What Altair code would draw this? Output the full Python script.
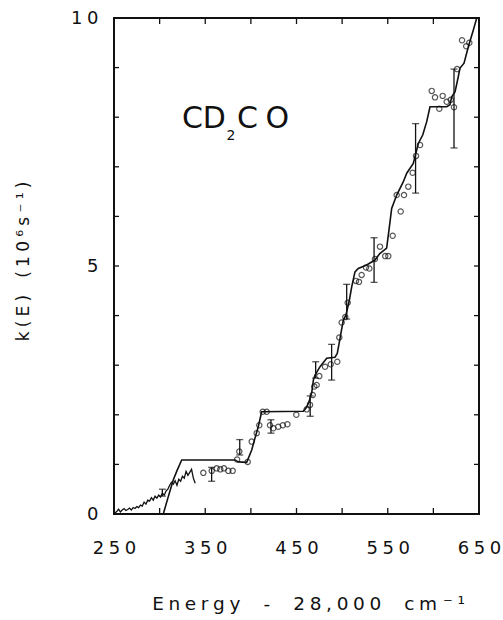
import altair as alt
import pandas as pd

# ---- data ----
theory_x = [250, 304, 309.5, 315, 319.4, 324.2, 382.6, 386.2, 395.4, 400.9, 404.5, 408.1, 411.8,
            457.5, 461, 464, 466.7, 468.5, 470.3, 475.8, 483.1, 492.2, 494.7, 497.7, 501.3, 504.2,
            507.9, 510.5, 514.1, 517.7, 526.9, 536, 541.3, 548.8, 551.5, 554.3, 559.8, 567.1, 570.8,
            578, 583.5, 588.3, 592.7, 596.3, 614.6, 618.2, 620.1, 623.7, 626.2, 629.2, 633.6, 638.3,
            643.8, 647.5]
theory_y = [0, 0, 0.35, 0.69, 0.89, 1.09, 1.09, 1.05, 1.04, 1.29, 1.53, 1.76, 2.06,
            2.07, 2.15, 2.28, 2.45, 2.70, 2.80, 2.97, 3.14, 3.16, 3.24, 3.54, 3.91, 4.01,
            4.31, 4.58, 4.88, 4.95, 5.02, 5.12, 5.25, 5.36, 5.75, 6.16, 6.43, 6.70, 6.87,
            7.07, 7.47, 7.64, 7.91, 8.21, 8.21, 8.25, 8.41, 8.51, 8.72, 8.99, 9.09, 9.42,
            9.76, 10.0]

trace_x = [251, 253, 255, 257, 259, 261, 263, 265, 267, 269, 271, 273, 275, 277, 279, 281, 283,
           285, 287, 289, 291, 293, 295, 297, 299, 301, 303, 305, 307, 309, 311, 313, 315, 317,
           319, 321, 323, 325, 327, 329, 331, 333, 335, 337, 339]
trace_y = [0.02, 0.05, 0.10, 0.04, 0.08, 0.11, 0.07, 0.09, 0.12, 0.08, 0.13, 0.11, 0.15, 0.13,
           0.18, 0.16, 0.24, 0.20, 0.28, 0.26, 0.33, 0.28, 0.36, 0.32, 0.38, 0.34, 0.42, 0.38,
           0.46, 0.50, 0.58, 0.64, 0.60, 0.67, 0.58, 0.70, 0.66, 0.76, 0.72, 0.86, 0.78, 0.84,
           0.90, 0.72, 0.62]

point_x = [347.9, 357.1, 362.5, 366.5, 370.5, 375.3, 380.1, 384.9, 387.3, 396.5, 400.9, 406.4,
           409.2, 413, 417.3, 421, 424.6, 430, 435, 440, 449.8, 461.2, 464.8, 467.8, 469.5, 472.1,
           475, 481.3, 487.5, 494.7, 496.9, 499.5, 503.5, 506.1, 515.2, 518.5, 521.4, 526.2,
           529.8, 536, 541.5, 547.2, 550.6, 555.4, 559.8, 564.2, 567.8, 572.5, 577.3, 581, 585.4,
           598.2, 601.8, 606.5, 610.2, 614.6, 619, 622.6, 626, 631.4, 636, 639.4]
point_y = [0.83, 0.87, 0.92, 0.90, 0.92, 0.87, 0.87, 1.10, 1.26, 1.05, 1.46, 1.63,
           1.79, 2.06, 2.06, 1.79, 1.73, 1.76, 1.79, 1.81, 2.00, 2.11, 2.20, 2.40, 2.57, 2.60,
           2.78, 2.97, 3.02, 3.07, 3.56, 3.86, 3.97, 4.26, 4.70, 4.68, 4.82, 4.97,
           4.95, 5.14, 5.39, 5.20, 5.20, 5.61, 6.43, 6.10, 6.43, 6.60, 6.88, 7.22, 7.44,
           8.53, 8.40, 8.17, 8.43, 8.31, 8.35, 8.20, 8.97, 9.55, 9.43, 9.50]

err_x = [303, 357, 387.8, 422, 465, 471, 488.5, 505, 535, 580.5, 622.6]
err_lo = [0.36, 0.66, 1.19, 1.63, 1.97, 2.74, 2.70, 3.93, 4.67, 6.47, 7.38]
err_hi = [0.50, 0.94, 1.50, 1.90, 2.38, 3.07, 3.42, 4.63, 5.57, 7.87, 8.97]

x_labels = [250, 350, 450, 550, 650]
y_labels = [0, 5, 10]
x_minor = [300, 350, 400, 450, 500, 550, 600]
y_minor = [1, 2, 3, 4, 5, 6, 7, 8, 9]

label_x = [378.2]
label_y = [7.78]

# ---- helpers ----
SP = "\u2005"   # four-per-em space used as letter spacing
EM = "\u2003"


def spaced(s):
    return SP.join(list(s))


x_title = (spaced("Energy") + EM + SP + "-" + EM + SP + spaced("28,000") + EM + SP
           + "c" + SP + "m" + " " + "⁻" + SP + "¹")
y_title = spaced("k(E)") + EM + spaced("(10⁶s⁻¹)")

theory = pd.DataFrame({"x": theory_x, "y": theory_y})
trace = pd.DataFrame({"x": trace_x, "y": trace_y})
pts = pd.DataFrame({"x": point_x, "y": point_y})
errs = pd.DataFrame({"x": err_x, "lo": err_lo, "hi": err_hi})
xt = pd.DataFrame({"t": x_minor})
yt = pd.DataFrame({"t": y_minor})
lab = pd.DataFrame({"x": label_x, "y": label_y})

FONT = "DejaVu Sans"
INK = "#111111"

xscale = alt.Scale(domain=[250, 650], nice=False, zero=False)
yscale = alt.Scale(domain=[0, 10], nice=False)

label_expr = "join(split(datum.label, ''), '\u2005')"

xaxis = alt.Axis(values=x_labels, ticks=False, domain=False, grid=False, labelFont=FONT,
                 labelFontSize=18, labelColor=INK, labelPadding=25, labelExpr=label_expr,
                 labelFlush=False, labelOverlap=False,
                 title=x_title, titleFont=FONT, titleFontSize=18.5, titleFontWeight="normal",
                 titleColor=INK, titleX=194, titleY=89, titleBaseline="middle", titleAnchor="middle")
yaxis = alt.Axis(values=y_labels, ticks=False, domain=False, grid=False, labelFont=FONT,
                 labelFontSize=18, labelColor=INK, labelPadding=16, labelExpr=label_expr,
                 labelFlush=False, labelOverlap=False,
                 title=y_title, titleFont=FONT, titleFontSize=17, titleFontWeight="normal",
                 titleColor=INK, titleX=-91, titleY=243, titleAngle=-90, titleBaseline="middle",
                 titleAlign="center")

theory_layer = alt.Chart(theory).mark_line(color=INK, strokeWidth=1.6, clip=True).encode(
    x=alt.X("x:Q", scale=xscale, axis=xaxis),
    y=alt.Y("y:Q", scale=yscale, axis=yaxis),
    order="x:Q",
)

trace_layer = alt.Chart(trace).mark_line(color=INK, strokeWidth=1.3).encode(
    x=alt.X("x:Q", scale=xscale), y=alt.Y("y:Q", scale=yscale), order="x:Q"
)

pts_layer = alt.Chart(pts).mark_point(shape="circle", filled=False, color=INK, size=28,
                                      strokeWidth=1.2).encode(
    x=alt.X("x:Q", scale=xscale), y=alt.Y("y:Q", scale=yscale)
)

err_rule = alt.Chart(errs).mark_rule(color=INK, strokeWidth=1.3).encode(
    x=alt.X("x:Q", scale=xscale), y=alt.Y("lo:Q", scale=yscale), y2="hi:Q"
)
err_cap_lo = alt.Chart(errs).mark_tick(color=INK, orient="horizontal", size=7, thickness=1.3).encode(
    x=alt.X("x:Q", scale=xscale), y=alt.Y("lo:Q", scale=yscale)
)
err_cap_hi = alt.Chart(errs).mark_tick(color=INK, orient="horizontal", size=7, thickness=1.3).encode(
    x=alt.X("x:Q", scale=xscale), y=alt.Y("hi:Q", scale=yscale)
)

tick_bottom = alt.Chart(xt).mark_rule(color=INK, strokeWidth=1.3).encode(
    x=alt.X("t:Q", scale=xscale), y=alt.value(496), y2=alt.value(490)
)
tick_top = alt.Chart(xt).mark_rule(color=INK, strokeWidth=1.3).encode(
    x=alt.X("t:Q", scale=xscale), y=alt.value(0), y2=alt.value(6)
)
tick_left = alt.Chart(yt).mark_rule(color=INK, strokeWidth=1.3).encode(
    y=alt.Y("t:Q", scale=yscale), x=alt.value(0), x2=alt.value(5)
)
tick_right = alt.Chart(yt).mark_rule(color=INK, strokeWidth=1.3).encode(
    y=alt.Y("t:Q", scale=yscale), x=alt.value(365), x2=alt.value(360)
)

txt_cd = alt.Chart(lab).mark_text(text="CD", font=FONT, fontSize=30, color=INK,
                                  align="right", baseline="alphabetic", dx=-5).encode(
    x=alt.X("x:Q", scale=xscale), y=alt.Y("y:Q", scale=yscale)
)
txt_2 = alt.Chart(lab).mark_text(text="2", font=FONT, fontSize=14, color=INK,
                                 align="center", baseline="alphabetic", dy=12).encode(
    x=alt.X("x:Q", scale=xscale), y=alt.Y("y:Q", scale=yscale)
)
txt_co = alt.Chart(lab).mark_text(text="C" + SP + "O", font=FONT, fontSize=30, color=INK,
                                  align="left", baseline="alphabetic", dx=6).encode(
    x=alt.X("x:Q", scale=xscale), y=alt.Y("y:Q", scale=yscale)
)

chart = alt.layer(
    theory_layer, trace_layer, err_rule, err_cap_lo, err_cap_hi, pts_layer,
    tick_bottom, tick_top, tick_left, tick_right, txt_cd, txt_2, txt_co
).properties(
    width=365, height=496,
    autosize=alt.AutoSizeParams(type="none"),
    padding={"left": 114, "top": 18, "right": 24, "bottom": 106},
    background="white",
).configure_view(stroke=INK, strokeWidth=2)

chart.save("out.html", embed_options={"renderer": "svg", "actions": False})
